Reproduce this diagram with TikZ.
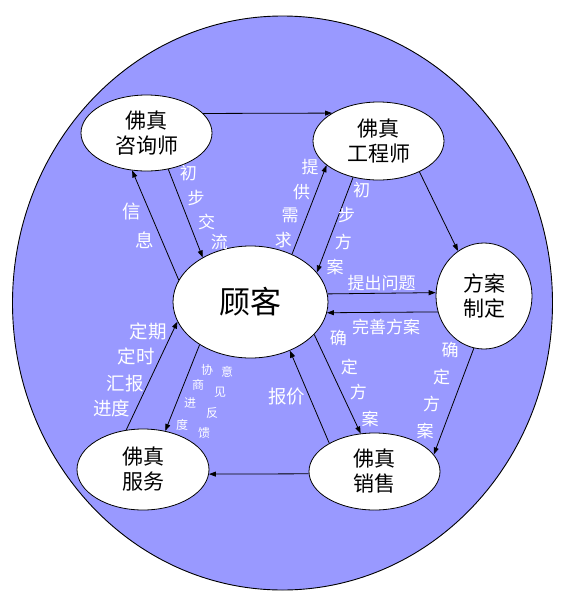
\documentclass[tikz,border=0pt]{standalone}
\usepackage{fontspec}
\newfontfamily\cjk{Noto Sans CJK SC}
\usetikzlibrary{shapes.geometric,arrows.meta}
\definecolor{bgblue}{RGB}{153,153,255}
\begin{document}
\begin{tikzpicture}[x=1pt,y=-1pt,
  box/.style={ellipse, draw, line width=0.8pt, fill=white, inner sep=0pt, align=center, font=\cjk\fontsize{21}{25}\selectfont},
  con/.style={-{Triangle[length=7pt,width=5pt]}, line width=0.8pt},
  lbl/.style={text=white, inner sep=0pt, font=\cjk\fontsize{17}{17}\selectfont},
  lblb/.style={lbl, font=\cjk\fontsize{18.5}{18.5}\selectfont},
  lbls/.style={lbl, font=\cjk\fontsize{12}{12}\selectfont}]
\useasboundingbox (0,0) rectangle (565,606);
\draw[line width=0.9pt, fill=bgblue] (282.5,303) ellipse [x radius=270, y radius=287];

\node[box, minimum width=131pt, minimum height=76pt] (zx) at (146.5,133) {佛真\\咨询师};
\node[box, minimum width=131pt, minimum height=78pt] (gc) at (378.5,141) {佛真\\工程师};
\node[box, minimum width=155pt, minimum height=112pt, font=\cjk\fontsize{31}{31}\selectfont] (gk) at (250.5,302) {顾客};
\node[box, minimum width=96pt, minimum height=106pt] (fa) at (484,296) {方案\\制定};
\node[box, minimum width=131pt, minimum height=77pt] (xs) at (374.5,471.5) {佛真\\销售};
\node[box, minimum width=132pt, minimum height=81pt] (fw) at (143,469.5) {佛真\\服务};

\draw[con] (zx.19.5) -- (gc.149);
\draw[con] (gk.163.3) -- (zx.249.6);
\draw[con] (zx.301.3) -- (gk.137.1);
\draw[con] (gk.49.7) -- (gc.205.9);
\draw[con] (gc.235.8) -- (gk.24.3);
\draw[con] (gc.323.2) -- (fa.120.6);
\draw[con] (gk.6.5) -- (fa.176.4);
\draw[con] (fa.199.5) -- (gk.352.1);
\draw[con] (gk.333.9) -- (xs.110.5);
\draw[con] (fa.259.7) -- (xs.16.5);
\draw[con] (xs.148.1) -- (gk.309.1);
\draw[con] (xs.182.2) -- (fw.356.2);
\draw[con] (fw.113.4) -- (gk.195.2);
\draw[con] (gk.220.1) -- (fw.60);

% 信息
\node[lblb] (a1) at (131.7,211.7) {信};
\node[lblb] (a2) at (145,240) {息};
% 初步交流
\node[lbl] (b1) at (188.3,173.3) {初};
\node[lbl] (b2) at (196,198) {步};
\node[lbl] (b3) at (206.7,221.7) {交};
\node[lbl] (b4) at (219.3,241.7) {流};
% 提供需求
\node[lbl] (c1) at (310,166.7) {提};
\node[lbl] (c2) at (301.7,191.7) {供};
\node[lbl] (c3) at (290,215) {需};
\node[lbl] (c4) at (283.3,240) {求};
% 初步方案
\node[lbl] (d1) at (361.7,190) {初};
\node[lbl] (d2) at (346.7,215) {步};
\node[lbl] (d3) at (343.3,241.7) {方};
\node[lbl] (d4) at (335,266.7) {案};
% 提出问题 / 完善方案
\node[lbl] (e1) at (381.7,282.7) {提出问题};
\node[lbl] (e2) at (386,326.7) {完善方案};
% 确定方案 (left)
\node[lbl] (f1) at (338.3,338.3) {确};
\node[lbl] (f2) at (349.3,366.7) {定};
\node[lbl] (f3) at (358.3,391.7) {方};
\node[lbl] (f4) at (370,419.3) {案};
% 确定方案 (right)
\node[lbl] (g1) at (450,350) {确};
\node[lbl] (g2) at (441.7,377.3) {定};
\node[lbl] (g3) at (431.7,404) {方};
\node[lbl] (g4) at (425,430.7) {案};
% 报价
\node[lblb] (h1) at (286.7,396.7) {报价};
% 定期定时汇报进度
\node[lblb] (i1) at (148.3,331.7) {定期};
\node[lblb] (i2) at (136,356.7) {定时};
\node[lblb] (i3) at (125,383.3) {汇报};
\node[lblb] (i4) at (111.7,408.3) {进度};
% 协商进度 / 意见反馈
\node[lbls] (j1) at (207,370) {协};
\node[lbls] (j2) at (198,385) {商};
\node[lbls] (j3) at (190,403) {进};
\node[lbls] (j4) at (182,425) {度};
\node[lbls] (k1) at (227,372) {意};
\node[lbls] (k2) at (220,392) {见};
\node[lbls] (k3) at (212,413) {反};
\node[lbls] (k4) at (204,433) {馈};
\end{tikzpicture}
\end{document}
